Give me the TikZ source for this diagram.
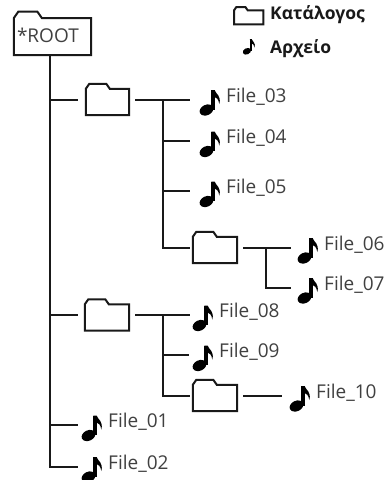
\documentclass[tikz,border=0pt]{standalone}
\usepackage{fontspec}
\setmainfont{Open Sans}
\usepackage{tikz}

% folder outline round a node: node, tab width, tab height
\newcommand{\foldertab}[3]{%
  \draw[line] (#1.north west) ++(0,#3) -- ++({0.7*#3},-#3) -- ++(#2,0) -- ++({0.7*#3},#3)
    -| (#1.south east) -- (#1.south west) -- cycle;}

\begin{document}
\begin{tikzpicture}[x=1pt, y=-1pt,
    line/.style={line width=2pt, black!90, line join=miter},
    lab/.style={text=black!75, font=\fontsize{19}{22}\selectfont},
    folder/.style={inner sep=0pt, minimum width=44pt, minimum height=31pt},
    file/.style={lab, anchor=west, inner sep=0pt, text height=10pt, text depth=5pt, execute at begin node=\hspace*{26pt}},
    legend/.style={anchor=base west, inner sep=0pt, text=black!90, font=\fontsize{17.5}{20}\selectfont\bfseries},
    endgap/.style={shorten >=#1},
    note/.pic={
      \fill[rotate around={25:(6.5,10.5)}] (6.5,10.5) ellipse [x radius=7.2, y radius=5.2];
      \fill (11.3,-9.5) rectangle (14.6,10);
      \fill (11.3,-9.5) -- (14.6,-9.5) .. controls (16,-5) and (21.5,-4) .. (19.3,4.5)
        .. controls (18.5,-0.5) and (16.5,-2) .. (14.6,-2.5) -- cycle;}]
  \useasboundingbox (0,0) rectangle (388,480);

  % legend
  \node[folder, minimum width=29pt, minimum height=17pt] (leg) at (248.7,15.7) {};
  \foldertab{leg}{9}{3.4}
  \node[legend] (kat) at (270,19) {Κατάλογος};
  \pic[scale=0.6] at (243,45) {note};
  \node[legend] (arx) at (270,53.5) {Αρχείο};

  % folders
  \node[folder, lab, minimum width=77pt, minimum height=43pt, text width=71pt, align=left,
        text height=18pt, text depth=0pt] (root) at (52.5,33.3) {*ROOT};
  \foldertab{root}{19}{6.5}
  \node[folder, minimum width=43pt] (d1) at (107.5,99.5) {};
  \node[folder] (d2) at (107,315) {};
  \node[folder] (d3) at (215,247.5) {};
  \node[folder] (d4) at (215,395.5) {};
  \foreach \d in {d1,d2,d3,d4} {\foldertab{\d}{17}{5}}

  % files
  \node[file] (f01) at (82,425) {File\_01};
  \node[file] (f02) at (82,466.5) {File\_02};
  \node[file] (f03) at (200,99.5) {File\_03};
  \node[file] (f04) at (200,141) {File\_04};
  \node[file] (f05) at (200,191) {File\_05};
  \node[file] (f06) at (298,247.5) {File\_06};
  \node[file] (f07) at (298,287.5) {File\_07};
  \node[file] (f08) at (193,315) {File\_08};
  \node[file] (f09) at (193,355) {File\_09};
  \node[file] (f10) at (290,395.5) {File\_10};
  \foreach \f in {f01,f02,f03,f04,f05,f06,f07,f08,f09,f10} {\pic at (\f.west) {note};}

  % junctions
  \coordinate (r) at ([xshift=-2.5pt]root.south);
  \coordinate (j1) at ([xshift=34pt]d1.east);
  \coordinate (j2) at ([xshift=34pt]d2.east);
  \coordinate (j3) at ([xshift=29pt]d3.east);

  % connectors
  \draw[line, endgap=4pt] (r) |- (f02.west);
  \draw[line, endgap=4pt] (r |- f01.west) -- (f01.west);
  \draw[line, endgap=8pt] (r |- d1.west) -- (d1.west);
  \draw[line, endgap=7pt] (r |- d2.west) -- (d2.west);
  \draw[line, shorten <=6pt, endgap=10pt] (d1.east) -- (f03.west);
  \draw[line, endgap=3pt] (j1) |- (d3.west);
  \draw[line, endgap=10pt] (j1 |- f04.west) -- (f04.west);
  \draw[line, endgap=10pt] (j1 |- f05.west) -- (f05.west);
  \draw[line, shorten <=6pt, endgap=7pt] (d3.east) -- (f06.west);
  \draw[line, endgap=7pt] (j3) |- (f07.west);
  \draw[line, shorten <=6pt, endgap=3pt] (d2.east) -- (f08.west);
  \draw[line, endgap=3pt] (j2) |- (d4.west);
  \draw[line, endgap=4pt] (j2 |- f09.west) -- (f09.west);
  \draw[line, shorten <=6pt, endgap=8pt] (d4.east) -- (f10.west);
\end{tikzpicture}
\end{document}
